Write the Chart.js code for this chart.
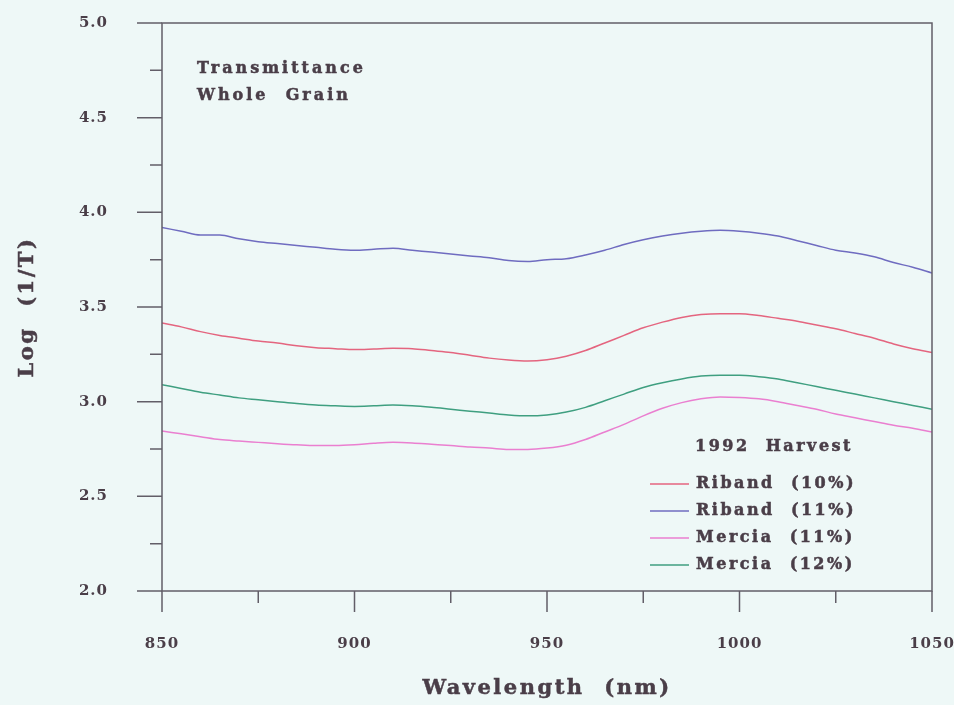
<!DOCTYPE html>
<html>
<head>
<meta charset="utf-8">
<script src="https://cdn.jsdelivr.net/npm/chart.js@4.4.1/dist/chart.umd.min.js"></script>
<style>
  html, body { margin: 0; padding: 0; background: #eef8f7; }
  #wrap { width: 954px; height: 705px; }
</style>
</head>
<body>
<div id="wrap"><canvas id="c" width="954" height="705"></canvas></div>
<script>
// ---- data ----
const wavelengths = [850,855,860,865,870,875,880,885,890,895,900,905,910,915,920,925,930,935,940,945,950,955,960,965,970,975,980,985,990,995,1000,1005,1010,1015,1020,1025,1030,1035,1040,1045,1050];
const ribandTen = [3.415,3.395,3.37,3.35,3.335,3.32,3.31,3.295,3.285,3.28,3.275,3.278,3.282,3.28,3.27,3.26,3.245,3.23,3.22,3.215,3.222,3.24,3.27,3.31,3.35,3.39,3.42,3.445,3.46,3.465,3.465,3.455,3.44,3.425,3.405,3.385,3.36,3.335,3.305,3.28,3.26];
const ribandEleven = [3.92,3.90,3.88,3.88,3.86,3.845,3.835,3.825,3.815,3.805,3.80,3.805,3.81,3.80,3.79,3.78,3.77,3.76,3.745,3.74,3.75,3.755,3.775,3.80,3.83,3.855,3.875,3.89,3.90,3.905,3.90,3.89,3.875,3.85,3.825,3.80,3.785,3.765,3.735,3.71,3.68];
const merciaEleven = [2.845,2.83,2.815,2.80,2.792,2.785,2.778,2.772,2.768,2.768,2.772,2.78,2.785,2.782,2.775,2.768,2.76,2.755,2.748,2.748,2.755,2.77,2.80,2.84,2.88,2.925,2.965,2.995,3.015,3.025,3.022,3.015,3.00,2.98,2.96,2.935,2.915,2.895,2.875,2.86,2.84];
const merciaTwelve = [3.09,3.07,3.05,3.035,3.02,3.01,3.00,2.99,2.982,2.978,2.975,2.978,2.982,2.978,2.97,2.96,2.95,2.94,2.93,2.925,2.93,2.945,2.97,3.005,3.04,3.075,3.10,3.12,3.135,3.14,3.14,3.132,3.12,3.10,3.08,3.06,3.04,3.02,3.00,2.98,2.96];
const seriesLabels = ['Riband  (10%)', 'Riband  (11%)', 'Mercia  (11%)', 'Mercia  (12%)'];
const xTickValues = [850, 900, 950, 1000, 1050];
const yTickValues = [2.0, 2.5, 3.0, 3.5, 4.0, 4.5, 5.0];
const annotationLines = ['Transmittance', 'Whole  Grain'];
const legendTitle = '1992  Harvest';
const xTitle = 'Wavelength  (nm)';
const yTitle = 'Log  (1/T)';

// ---- styles ----
const colors = ['#e4657f', '#6f6cc0', '#ea7fd0', '#3f9f80'];
const textColor = '#4a3e48';
const axisColor = '#625e68';
const serif = '"DejaVu Serif", "Liberation Serif", serif';

const toPoints = arr => wavelengths.map((w, i) => ({ x: w, y: arr[i] }));
const seriesValues = [ribandTen, ribandEleven, merciaEleven, merciaTwelve];

const datasets = seriesValues.map((arr, i) => ({
  label: seriesLabels[i],
  data: toPoints(arr),
  borderColor: colors[i],
  borderWidth: 1.5,
  pointRadius: 0,
  tension: 0.4,
  cubicInterpolationMode: 'monotone',
  fill: false
}));

const zeroPad = s => { s.paddingLeft = 0; s.paddingRight = 0; s.paddingTop = 0; s.paddingBottom = 0; };

function heavyText(ctx, txt, x, y) {
  ctx.fillText(txt, x, y);
  ctx.strokeText(txt, x, y);
}

const decor = {
  id: 'decor',
  beforeDraw(chart) {
    const ctx = chart.ctx;
    ctx.save();
    ctx.fillStyle = '#eef8f7';
    ctx.fillRect(0, 0, chart.width, chart.height);
    ctx.restore();
    try { ctx.letterSpacing = '1px'; } catch (e) {}
  },
  afterDraw(chart) {
    const ctx = chart.ctx;
    const a = chart.chartArea;
    const xs = chart.scales.x, ys = chart.scales.y;
    ctx.save();
    ctx.strokeStyle = axisColor;
    ctx.lineWidth = 1.5;
    ctx.strokeRect(a.left, a.top, a.right - a.left, a.bottom - a.top);
    // y ticks (major every 0.5, minor every 0.25)
    ctx.beginPath();
    for (let v = ys.min; v <= ys.max + 1e-9; v += 0.25) {
      const y = ys.getPixelForValue(v);
      const major = Math.abs(v * 2 - Math.round(v * 2)) < 1e-6;
      ctx.moveTo(a.left, y);
      ctx.lineTo(a.left - (major ? 25 : 12), y);
    }
    // x ticks (major every 50, minor every 25)
    for (let v = xs.min; v <= xs.max + 1e-9; v += 25) {
      const x = xs.getPixelForValue(v);
      const major = v % 50 === 0;
      ctx.moveTo(x, a.bottom);
      ctx.lineTo(x, a.bottom + (major ? 21 : 12));
    }
    ctx.stroke();

    ctx.fillStyle = textColor;
    // annotation
    try { ctx.letterSpacing = '3px'; } catch (e) {}
    ctx.font = 'bold 16px ' + serif;
    ctx.textAlign = 'left';
    ctx.textBaseline = 'middle';
    ctx.strokeStyle = textColor;
    ctx.lineWidth = 0.5;
    heavyText(ctx, annotationLines[0], 197, 69);
    heavyText(ctx, annotationLines[1], 197, 96);

    // legend
    try { ctx.letterSpacing = '2.5px'; } catch (e) {}
    heavyText(ctx, legendTitle, 695, 447);
    chart.data.datasets.forEach((ds, i) => {
      const y = 484 + i * 27;
      ctx.strokeStyle = ds.borderColor;
      ctx.lineWidth = 1.5;
      ctx.beginPath();
      ctx.moveTo(650, y);
      ctx.lineTo(689, y);
      ctx.stroke();
      ctx.fillStyle = textColor;
      ctx.strokeStyle = textColor;
      ctx.lineWidth = 0.5;
      heavyText(ctx, ds.label, 696, y);
    });

    // axis titles
    try { ctx.letterSpacing = '2.5px'; } catch (e) {}
    ctx.font = 'bold 21px ' + serif;
    ctx.textAlign = 'center';
    heavyText(ctx, xTitle, (a.left + a.right) / 2, 689);
    ctx.save();
    ctx.translate(28, (a.top + a.bottom) / 2);
    ctx.rotate(-Math.PI / 2);
    ctx.font = 'bold 21px ' + serif;
    heavyText(ctx, yTitle, 0, 0);
    ctx.restore();
    ctx.restore();
  }
};

new Chart(document.getElementById('c'), {
  type: 'line',
  data: { datasets },
  options: {
    responsive: false,
    animation: false,
    events: [],
    layout: { padding: { left: 0, right: 22, top: 23, bottom: 0 } },
    plugins: { legend: { display: false }, tooltip: { enabled: false } },
    scales: {
      x: {
        type: 'linear',
        min: 850, max: 1050,
        afterBuildTicks: s => { s.ticks = xTickValues.map(v => ({ value: v })); },
        afterFit: s => { s.height = 114; zeroPad(s); },
        grid: { display: false, drawTicks: false },
        border: { display: false },
        ticks: {
          padding: 44,
          color: textColor,
          font: { family: serif, size: 15, weight: 'bold' },
          maxRotation: 0,
          callback: v => String(v)
        }
      },
      y: {
        type: 'linear',
        min: 2, max: 5,
        afterBuildTicks: s => { s.ticks = yTickValues.map(v => ({ value: v })); },
        afterFit: s => { s.width = 162; zeroPad(s); },
        grid: { display: false, drawTicks: false },
        border: { display: false },
        ticks: {
          padding: 54,
          color: textColor,
          font: { family: serif, size: 15, weight: 'bold' },
          callback: v => Number(v).toFixed(1)
        }
      }
    }
  },
  plugins: [decor]
});
</script>
</body>
</html>
